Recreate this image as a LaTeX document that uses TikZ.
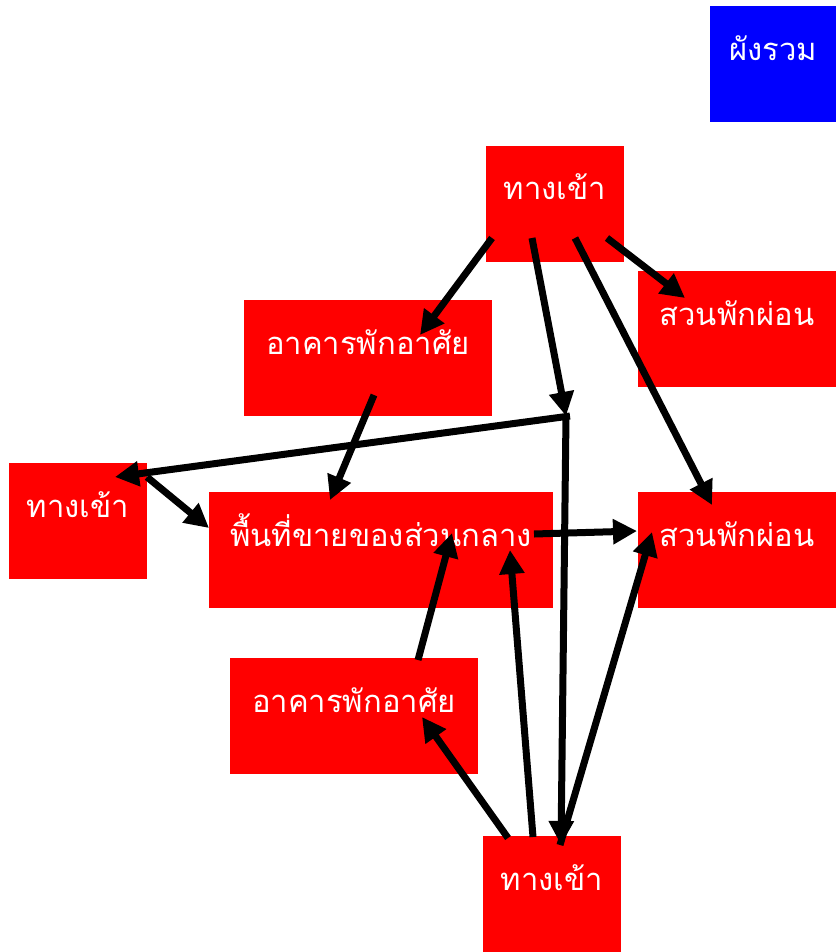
\documentclass[tikz,border=0pt]{standalone}
\usepackage{fontspec}
\newfontfamily\thaifont[Script=Thai]{Loma}
\usetikzlibrary{arrows.meta}

\begin{document}
\begin{tikzpicture}[x=1pt, y=-1pt,
  zone/.style={fill=red, text=white, inner sep=0pt, text height=54pt, text depth=62pt, font=\thaifont\fontsize{31}{37}\selectfont},
  link/.style={-{Triangle[length=24pt,width=24pt]}, line width=7pt}]
  \useasboundingbox (0,0) rectangle (836,952);
  \node[zone, fill=blue, minimum width=126pt] (plan) at (773,64.5) {ผังรวม};
  \node[zone, minimum width=138pt] (gateN) at (555,204) {ทางเข้า};
  \node[zone, minimum width=248pt] (homeN) at (368,358) {อาคารพักอาศัย};
  \node[zone, minimum width=198pt] (parkN) at (737,329) {สวนพักผ่อน};
  \node[zone, minimum width=138pt] (gateW) at (78,521) {ทางเข้า};
  \node[zone, minimum width=344pt] (market) at (381,550) {พื้นที่ขายของส่วนกลาง};
  \node[zone, minimum width=198pt] (parkE) at (737,550) {สวนพักผ่อน};
  \node[zone, minimum width=248pt] (homeS) at (354,716) {อาคารพักอาศัย};
  \node[zone, minimum width=138pt] (gateS) at (552,894) {ทางเข้า};
  \coordinate (hub) at (566,416);
  % from the north gate
  \draw[link] ([shift={(-63,34)}]gateN.center) -- ([shift={(52,-23)}]homeN.center);
  \draw[link] ([shift={(-23,34)}]gateN.center) -- (hub);
  \draw[link] ([shift={(20,34)}]gateN.center) -- ([shift={(-25,-45)}]parkE.center);
  \draw[link] ([shift={(52,34)}]gateN.center) -- ([shift={(-52,-31)}]parkN.center);
  \draw[link] ([shift={(6,37)}]homeN.center) -- ([shift={(-51,-50)}]market.center);
  % through the hub
  \draw[link] ([shift={(4,0)}]hub) -- ([shift={(37,-44)}]gateW.center);
  \draw[link] ([shift={(69,-44)}]gateW.center) -- ([shift={(-172,-22)}]market.center);
  \draw[link] ([shift={(153,-16)}]market.center) -- ([shift={(-100,-19)}]parkE.center);
  \draw[link] (hub) -- ([shift={(9,-49)}]gateS.center);
  % from the south side
  \draw[link] ([shift={(64,-56)}]homeS.center) -- ([shift={(71,-17)}]market.center);
  \draw[link] ([shift={(-44,-56)}]gateS.center) -- ([shift={(68,1)}]homeS.center);
  \draw[link] ([shift={(-19,-57)}]gateS.center) -- ([shift={(129,0)}]market.center);
  \draw[link] ([shift={(8,-49)}]gateS.center) -- ([shift={(-85,-18)}]parkE.center);
\end{tikzpicture}
\end{document}
